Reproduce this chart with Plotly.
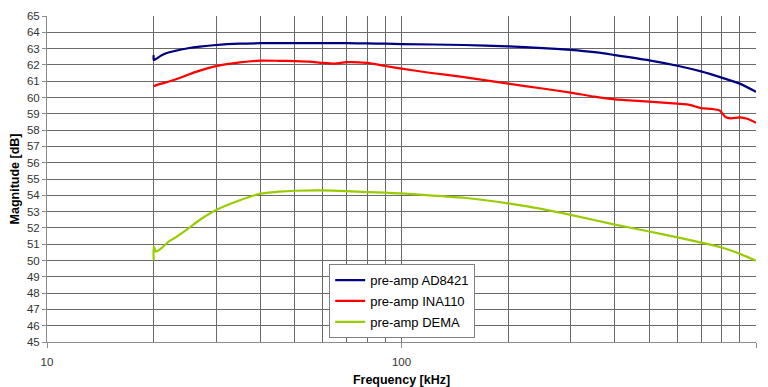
import plotly.graph_objects as go

# Frequencies (kHz) and magnitudes (dB)
freq_ad8421 = [20, 20, 21, 22, 23, 25, 27, 30, 35, 40, 50, 60, 70, 80, 90, 100,
               150, 200, 250, 300, 350, 400, 500, 600, 700, 800, 900, 1000]
mag_ad8421 = [62.6, 62.3, 62.58, 62.76, 62.86, 63.02, 63.12, 63.22, 63.3, 63.33, 63.34, 63.34,
              63.33, 63.32, 63.3, 63.28, 63.22, 63.14, 63.03, 62.92, 62.78, 62.6, 62.28,
              61.95, 61.6, 61.22, 60.85, 60.35]

freq_ina110 = [20, 21, 22, 23, 25, 27, 30, 35, 40, 45, 50, 55, 60, 65, 70, 80, 90, 100,
               120, 150, 200, 250, 300, 350, 400, 500, 600, 650, 700, 750, 790, 820,
               850, 900, 950, 1000]
mag_ina110 = [60.7, 60.85, 60.97, 61.1, 61.4, 61.65, 61.92, 62.15, 62.26, 62.25, 62.23,
              62.2, 62.12, 62.08, 62.17, 62.12, 61.93, 61.77, 61.52, 61.25, 60.85, 60.55,
              60.3, 60.05, 59.88, 59.75, 59.62, 59.55, 59.35, 59.3, 59.2, 58.8, 58.72,
              58.78, 58.68, 58.45]

freq_dema = [20, 20, 20.3, 21, 22, 23, 25, 27, 30, 35, 40, 45, 50, 60, 70, 80, 90, 100,
             120, 150, 200, 250, 300, 400, 500, 600, 700, 800, 900, 1000]
mag_dema = [50.0, 50.85, 50.55, 50.75, 51.15, 51.4, 51.95, 52.5, 53.1, 53.7, 54.1, 54.22,
            54.28, 54.3, 54.26, 54.2, 54.16, 54.12, 54.0, 53.85, 53.5, 53.15, 52.8, 52.2,
            51.78, 51.42, 51.1, 50.8, 50.42, 49.98]

series_names = ["pre-amp AD8421", "pre-amp INA110", "pre-amp DEMA"]
series_colors = ["#000080", "#ff0000", "#99cc00"]

x_major_ticks = [10, 100, 1000]
x_minor_grid = [20, 30, 40, 50, 60, 70, 80, 90, 100, 200, 300, 400, 500, 600, 700, 800, 900]
y_ticks = list(range(45, 66))
y_grid = list(range(46, 65))

FONT = "Arial, 'Liberation Sans', sans-serif"
GRID = "#6a6a6a"
AXIS = "#8c8c8c"

fig = go.Figure()
for name, xs, ys, col in zip(series_names,
                             [freq_ad8421, freq_ina110, freq_dema],
                             [mag_ad8421, mag_ina110, mag_dema],
                             series_colors):
    fig.add_trace(go.Scatter(x=xs, y=ys, mode="lines", name=name, legendgroup=name,
                             line=dict(color=col, width=2.2, shape="spline", smoothing=0.6)))

fig.update_layout(
    width=768, height=387,
    margin=dict(l=47, r=12, t=16, b=45),
    paper_bgcolor="white", plot_bgcolor="white",
    font=dict(family=FONT, color="#222222"),
    showlegend=True,
    legend=dict(x=0.398, y=0.012, xanchor="left", yanchor="bottom",
                bgcolor="white", bordercolor="#808080", borderwidth=1,
                font=dict(family=FONT, size=13, color="#000000"),
                itemwidth=30, tracegroupgap=1),
)

fig.update_xaxes(
    type="log", range=[1, 3], automargin=False,
    tickvals=x_major_ticks, ticktext=["10", "100", "1000"],
    ticks="outside", ticklen=5, tickcolor=AXIS, tickwidth=1,
    tickfont=dict(family=FONT, size=11.5, color="#333333"),
    ticklabelstandoff=4,
    showgrid=False, zeroline=False,
    showline=True, linecolor=AXIS, linewidth=1,
    minor=dict(tickvals=x_minor_grid, showgrid=True, gridcolor=GRID, gridwidth=1, ticks=""),
    title=dict(text="<b>Frequency [kHz]</b>", font=dict(family=FONT, size=12.5, color="#000000"),
               standoff=8),
)

fig.update_yaxes(
    range=[45, 65], automargin=False,
    tickvals=y_ticks,
    ticks="outside", ticklen=4, tickcolor=AXIS, tickwidth=1,
    tickfont=dict(family=FONT, size=11.5, color="#333333"),
    showgrid=False, zeroline=False,
    showline=True, linecolor=AXIS, linewidth=1,
    minor=dict(tickvals=y_grid, showgrid=True, gridcolor=GRID, gridwidth=1, ticks=""),
    title=dict(text="<b>Magnitude [dB]</b>", font=dict(family=FONT, size=12.5, color="#000000"),
               standoff=4),
)

fig.write_html("out.html")
